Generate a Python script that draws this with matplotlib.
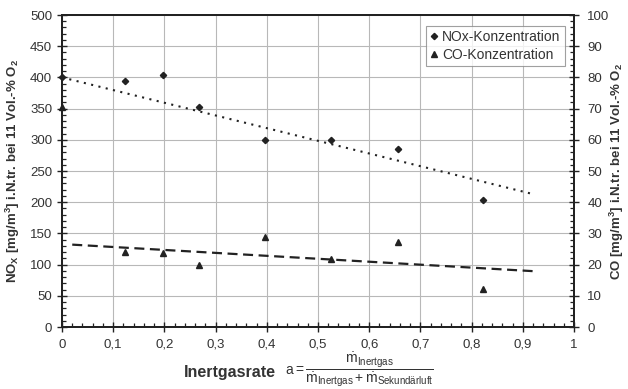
import numpy as np
import matplotlib
matplotlib.use("Agg")
import matplotlib.pyplot as plt
from matplotlib.ticker import MultipleLocator, FuncFormatter

plt.rcParams['font.family'] = ['Liberation Sans', 'DejaVu Sans']
plt.rcParams['mathtext.fontset'] = 'custom'
plt.rcParams['mathtext.rm'] = 'Liberation Sans'
plt.rcParams['mathtext.it'] = 'Liberation Sans:italic'
plt.rcParams['mathtext.bf'] = 'Liberation Sans:bold'

nox_x = [0.0, 0.123, 0.198, 0.268, 0.396, 0.525, 0.657, 0.823]
nox_y = [400, 394, 404, 352, 300, 300, 286, 204]
co_x = [0.0, 0.123, 0.198, 0.268, 0.396, 0.525, 0.657, 0.823]
co_y = [70.5, 24.1, 23.7, 20.0, 28.7, 21.8, 27.3, 12.2]

# trend line end points
nox_trend_x = [0.0, 0.92]
nox_trend_y = [400, 213]
co_trend_x = [0.02, 0.92]
co_trend_y = [26.4, 17.9]

ink = '#222222'
txt = '#333333'

fig = plt.figure(figsize=(6.28, 3.89), dpi=100)
ax = fig.add_axes([62 / 628, 1 - 327 / 389, 512 / 628, 312 / 389])
ax2 = ax.twinx()

ax.set_xlim(0, 1)
ax.set_ylim(0, 500)
ax2.set_ylim(0, 100)

ax.xaxis.set_major_locator(MultipleLocator(0.1))
ax.xaxis.set_minor_locator(MultipleLocator(0.02))
ax.yaxis.set_major_locator(MultipleLocator(50))
ax.yaxis.set_minor_locator(MultipleLocator(10))
ax2.yaxis.set_major_locator(MultipleLocator(10))
ax2.yaxis.set_minor_locator(MultipleLocator(2))

ax.xaxis.set_major_formatter(FuncFormatter(lambda v, p: ('%g' % round(v, 2)).replace('.', ',')))

ax.grid(True, which='major', color='#b8b8b8', lw=0.8)
ax.set_axisbelow(True)

for a in (ax, ax2):
    for s in a.spines.values():
        s.set_color(ink)
        s.set_linewidth(1.4)
ax.tick_params(axis='both', which='major', direction='inout', length=7, width=1,
               color=ink, labelsize=9.5, labelcolor=txt)
ax.tick_params(axis='x', which='major', pad=5)
ax.tick_params(axis='both', which='minor', direction='in', length=3, width=0.9, color=ink)
ax2.tick_params(axis='y', which='major', direction='inout', length=7, width=1,
                color=ink, labelsize=9.5, labelcolor=txt, pad=6)
ax2.tick_params(axis='y', which='minor', direction='in', length=3, width=0.9, color=ink)

ax.plot(nox_trend_x, nox_trend_y, color=ink, lw=1.5, dashes=(1, 2.6))
ax2.plot(co_trend_x, co_trend_y, color=ink, lw=1.6, dashes=(4.5, 2.5))

h1, = ax.plot(nox_x, nox_y, 'D', color=ink, ms=3.2, ls='none', clip_on=False,
              label='NOx-Konzentration', zorder=5)
h2, = ax2.plot(co_x, co_y, '^', color=ink, ms=4.5, ls='none', clip_on=False,
               label='CO-Konzentration', zorder=5)

leg = ax2.legend([h1, h2], ['NOx-Konzentration', 'CO-Konzentration'],
                 loc='upper right', bbox_to_anchor=(0.982, 0.965), fontsize=10,
                 frameon=True, fancybox=False, handlelength=0.6, handletextpad=0.3,
                 borderpad=0.3, labelspacing=0.25, borderaxespad=0)
leg.get_frame().set_edgecolor('#888888')
leg.get_frame().set_linewidth(0.8)
for t in leg.get_texts():
    t.set_color(txt)

ax.set_ylabel(r'NO$_\mathbf{X}$ [mg/m$^\mathbf{3}$] i.N.tr. bei 11 Vol.-% O$_\mathbf{2}$',
              fontsize=9.5, fontweight='bold', color=txt)
ax.yaxis.set_label_coords(-0.078, 0.5)
ax2.set_ylabel(r'CO [mg/m$^\mathbf{3}$] i.N.tr. bei 11 Vol.-% O$_\mathbf{2}$',
               fontsize=9.5, fontweight='bold', color=txt, rotation=90)
ax2.yaxis.set_label_coords(1.066, 0.5)

fig.text(230 / 628, 1 - 372 / 389, 'Inertgasrate', fontsize=11.5, fontweight='bold',
         color=txt, ha='center', va='center')
fig.text(285 / 628, 1 - 370 / 389,
         r'$\mathrm{a} = \dfrac{\dot{\mathrm{m}}_{\mathrm{Inertgas}}}'
         r'{\dot{\mathrm{m}}_{\mathrm{Inertgas}} + \dot{\mathrm{m}}_{\mathrm{Sekundärluft}}}$',
         fontsize=10, color=txt, ha='left', va='center')

fig.savefig('out.png', dpi=100)
